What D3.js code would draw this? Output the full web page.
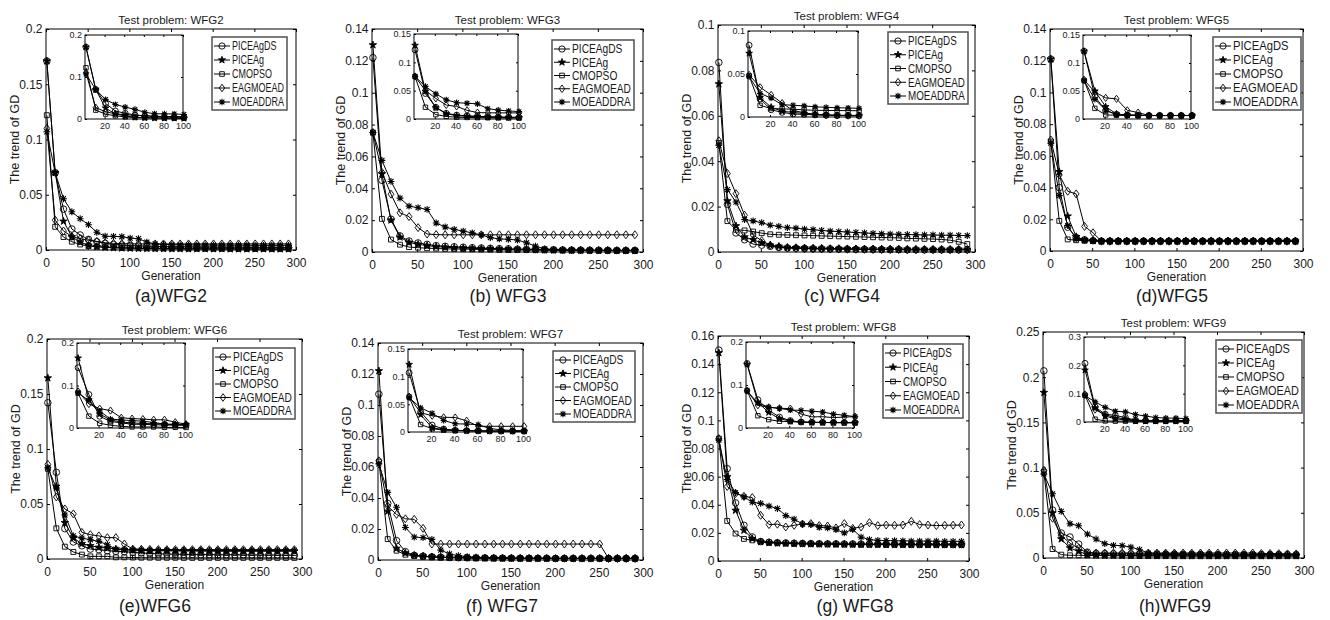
<!DOCTYPE html>
<head>
  <meta charset="utf-8">
  <script src="https://d3js.org/d3.v7.min.js"></script>
  <style>
    body { margin: 0; background: #fff; }
    svg { width: 1330px; height: 620px; display: block; background: #fff; }
    text { font-family: "Liberation Sans", Arial, sans-serif; fill: #1a1a1a; }
  </style>
</head>
<body>
  <svg></svg>
  <script>
    // generations at which GD was recorded
    var generations = [1, 11, 21, 31, 41, 51, 61, 71, 81, 91, 101, 111, 121, 131, 141,
      151, 161, 171, 181, 191, 201, 211, 221, 231, 241, 251, 261, 271, 281, 291];
    var algorithms = ['PICEAgDS', 'PICEAg', 'CMOPSO', 'EAGMOEAD', 'MOEADDRA'];
    var xTicks = [0, 50, 100, 150, 200, 250, 300];
    var insetXTicks = [20, 40, 60, 80, 100];

    // one row per algorithm, same order as `algorithms`
    var wfg2 = [
      [0.171, 0.070, 0.037, 0.019, 0.0136, 0.0096, 0.0075, 0.006, 0.005, 0.0045, 0.004, 0.0037, 0.0035, 0.0033, 0.0031, 0.003, 0.003, 0.0029, 0.0028, 0.0028, 0.0027, 0.0027, 0.0026, 0.0026, 0.0025, 0.0025, 0.0025, 0.0024, 0.0024, 0.0024],
      [0.171, 0.070, 0.026, 0.012, 0.0072, 0.0042, 0.003, 0.0024, 0.002, 0.0017, 0.0015, 0.0014, 0.0013, 0.0012, 0.0012, 0.0011, 0.0011, 0.001, 0.001, 0.001, 0.001, 0.001, 0.0009, 0.0009, 0.0009, 0.0009, 0.0009, 0.0009, 0.0009, 0.0009],
      [0.122, 0.021, 0.0117, 0.0075, 0.005, 0.0036, 0.003, 0.0025, 0.0022, 0.002, 0.0018, 0.0016, 0.0015, 0.0014, 0.0013, 0.0012, 0.0012, 0.0011, 0.0011, 0.001, 0.001, 0.001, 0.001, 0.0009, 0.0009, 0.0009, 0.0009, 0.0008, 0.0008, 0.0008],
      [0.110, 0.027, 0.0172, 0.0123, 0.0102, 0.0087, 0.0078, 0.0066, 0.006, 0.0058, 0.0056, 0.0055, 0.0055, 0.0055, 0.0055, 0.0055, 0.0055, 0.0055, 0.0055, 0.0055, 0.0055, 0.0055, 0.0055, 0.0055, 0.0055, 0.0055, 0.0055, 0.0055, 0.0055, 0.0055],
      [0.107, 0.070, 0.0464, 0.0346, 0.0283, 0.0229, 0.016, 0.0125, 0.0123, 0.012, 0.0108, 0.0102, 0.0072, 0.0055, 0.005, 0.0048, 0.0047, 0.0046, 0.0045, 0.0045, 0.0044, 0.0044, 0.0043, 0.0043, 0.0043, 0.0042, 0.0042, 0.0042, 0.0042, 0.0042]
    ];
    var wfg3 = [
      [0.122, 0.045, 0.0206, 0.0101, 0.0069, 0.0057, 0.0048, 0.004, 0.0036, 0.0033, 0.003, 0.0027, 0.0025, 0.0023, 0.0021, 0.002, 0.0018, 0.0017, 0.0016, 0.0015, 0.0014, 0.0013, 0.0012, 0.0012, 0.0011, 0.0011, 0.001, 0.001, 0.001, 0.001],
      [0.130, 0.049, 0.020, 0.0093, 0.006, 0.0048, 0.004, 0.0034, 0.003, 0.0027, 0.0025, 0.0023, 0.0021, 0.002, 0.0018, 0.0017, 0.0016, 0.0015, 0.0014, 0.0013, 0.0012, 0.0012, 0.0011, 0.0011, 0.001, 0.001, 0.001, 0.0009, 0.0009, 0.0009],
      [0.075, 0.0208, 0.0078, 0.0046, 0.0031, 0.0027, 0.0024, 0.0022, 0.002, 0.0019, 0.0018, 0.0017, 0.0016, 0.0015, 0.0014, 0.0013, 0.0013, 0.0012, 0.0012, 0.0011, 0.0011, 0.001, 0.001, 0.001, 0.0009, 0.0009, 0.0009, 0.0008, 0.0008, 0.0008],
      [0.075, 0.050, 0.0363, 0.0246, 0.0222, 0.0153, 0.0113, 0.0109, 0.0108, 0.0108, 0.0108, 0.0108, 0.0108, 0.0108, 0.0108, 0.0108, 0.0108, 0.0108, 0.0108, 0.0108, 0.0108, 0.0108, 0.0108, 0.0108, 0.0108, 0.0108, 0.0108, 0.0108, 0.0108, 0.0108],
      [0.075, 0.0575, 0.0443, 0.0338, 0.0288, 0.0278, 0.0267, 0.0182, 0.0157, 0.0142, 0.0131, 0.012, 0.0107, 0.009, 0.0082, 0.008, 0.0075, 0.0058, 0.0037, 0.002, 0.0015, 0.0013, 0.0012, 0.0011, 0.0011, 0.001, 0.001, 0.001, 0.001, 0.001]
    ];
    var wfg4 = [
      [0.0835, 0.021, 0.0084, 0.0054, 0.0035, 0.003, 0.0025, 0.002, 0.0018, 0.0017, 0.0016, 0.0015, 0.0014, 0.0014, 0.0013, 0.0013, 0.0012, 0.0012, 0.0012, 0.0011, 0.0011, 0.0011, 0.001, 0.001, 0.001, 0.001, 0.001, 0.001, 0.001, 0.001],
      [0.074, 0.0225, 0.0115, 0.0066, 0.0054, 0.004, 0.003, 0.0025, 0.002, 0.0019, 0.0018, 0.0017, 0.0016, 0.0015, 0.0015, 0.0014, 0.0014, 0.0013, 0.0013, 0.0013, 0.0012, 0.0012, 0.0012, 0.0012, 0.0011, 0.0011, 0.0011, 0.0011, 0.0011, 0.0011],
      [0.048, 0.0136, 0.0098, 0.0095, 0.009, 0.0083, 0.0078, 0.0076, 0.0075, 0.0074, 0.0073, 0.0072, 0.0071, 0.007, 0.0069, 0.0068, 0.0067, 0.0066, 0.0065, 0.0064, 0.0063, 0.0062, 0.006, 0.0059, 0.0058, 0.0057, 0.0055, 0.0052, 0.0045, 0.0035],
      [0.049, 0.0346, 0.0257, 0.0162, 0.0075, 0.005, 0.003, 0.0022, 0.0018, 0.0016, 0.0015, 0.0014, 0.0014, 0.0013, 0.0013, 0.0012, 0.0012, 0.0012, 0.0011, 0.0011, 0.0011, 0.0011, 0.001, 0.001, 0.001, 0.001, 0.001, 0.001, 0.001, 0.001],
      [0.047, 0.0275, 0.022, 0.0143, 0.0137, 0.0129, 0.0118, 0.0113, 0.0107, 0.0105, 0.0101, 0.0098, 0.0095, 0.0092, 0.009, 0.0088, 0.0086, 0.0084, 0.0082, 0.008, 0.0079, 0.0078, 0.0077, 0.0076, 0.0075, 0.0075, 0.0074, 0.0074, 0.0073, 0.0072]
    ];
    var wfg5 = [
      [0.121, 0.040, 0.015, 0.0085, 0.007, 0.0065, 0.0062, 0.0062, 0.0062, 0.0062, 0.0062, 0.0062, 0.0062, 0.0062, 0.0062, 0.0062, 0.0062, 0.0062, 0.0062, 0.0062, 0.0062, 0.0062, 0.0062, 0.0062, 0.0062, 0.0062, 0.0062, 0.0062, 0.0062, 0.0062],
      [0.121, 0.050, 0.022, 0.009, 0.007, 0.0065, 0.0062, 0.0062, 0.0062, 0.0062, 0.0062, 0.0062, 0.0062, 0.0062, 0.0062, 0.0062, 0.0062, 0.0062, 0.0062, 0.0062, 0.0062, 0.0062, 0.0062, 0.0062, 0.0062, 0.0062, 0.0062, 0.0062, 0.0062, 0.0062],
      [0.069, 0.019, 0.0073, 0.0068, 0.0065, 0.0063, 0.0062, 0.0062, 0.0062, 0.0062, 0.0062, 0.0062, 0.0062, 0.0062, 0.0062, 0.0062, 0.0062, 0.0062, 0.0062, 0.0062, 0.0062, 0.0062, 0.0062, 0.0062, 0.0062, 0.0062, 0.0062, 0.0062, 0.0062, 0.0062],
      [0.070, 0.048, 0.0377, 0.036, 0.0155, 0.0115, 0.0062, 0.0062, 0.0062, 0.0062, 0.0062, 0.0062, 0.0062, 0.0062, 0.0062, 0.0062, 0.0062, 0.0062, 0.0062, 0.0062, 0.0062, 0.0062, 0.0062, 0.0062, 0.0062, 0.0062, 0.0062, 0.0062, 0.0062, 0.0062],
      [0.068, 0.035, 0.016, 0.0075, 0.007, 0.0065, 0.0062, 0.0062, 0.0062, 0.0062, 0.0062, 0.0062, 0.0062, 0.0062, 0.0062, 0.0062, 0.0062, 0.0062, 0.0062, 0.0062, 0.0062, 0.0062, 0.0062, 0.0062, 0.0062, 0.0062, 0.0062, 0.0062, 0.0062, 0.0062]
    ];
    var wfg6 = [
      [0.142, 0.0788, 0.0276, 0.0155, 0.012, 0.009, 0.0085, 0.0076, 0.007, 0.0067, 0.006, 0.0055, 0.005, 0.0047, 0.0045, 0.0043, 0.0042, 0.0041, 0.004, 0.004, 0.0039, 0.0039, 0.0038, 0.0038, 0.0037, 0.0037, 0.0036, 0.0036, 0.0035, 0.0035],
      [0.1645, 0.066, 0.033, 0.019, 0.014, 0.012, 0.0106, 0.01, 0.009, 0.0085, 0.008, 0.0078, 0.0076, 0.0075, 0.0074, 0.0073, 0.0072, 0.0072, 0.0071, 0.0071, 0.007, 0.007, 0.007, 0.007, 0.007, 0.007, 0.007, 0.007, 0.007, 0.007],
      [0.082, 0.0279, 0.0112, 0.0064, 0.004, 0.0024, 0.0024, 0.0024, 0.0015, 0.0015, 0.0013, 0.0012, 0.0012, 0.0011, 0.0011, 0.0011, 0.001, 0.001, 0.001, 0.001, 0.001, 0.001, 0.001, 0.001, 0.001, 0.001, 0.001, 0.001, 0.001, 0.001],
      [0.086, 0.0564, 0.0455, 0.041, 0.0242, 0.0221, 0.021, 0.0194, 0.0194, 0.0136, 0.009, 0.0088, 0.0087, 0.0086, 0.0085, 0.0085, 0.0085, 0.0085, 0.0085, 0.0085, 0.0085, 0.0085, 0.0085, 0.0085, 0.0085, 0.0085, 0.0085, 0.0085, 0.0085, 0.0085],
      [0.083, 0.0645, 0.040, 0.021, 0.019, 0.0175, 0.016, 0.013, 0.009, 0.0085, 0.0082, 0.008, 0.0079, 0.0078, 0.0078, 0.0078, 0.0078, 0.0078, 0.0078, 0.0078, 0.0078, 0.0078, 0.0078, 0.0078, 0.0078, 0.0078, 0.0078, 0.0078, 0.0078, 0.0078]
    ];
    var wfg7 = [
      [0.107, 0.0365, 0.0125, 0.0054, 0.003, 0.0025, 0.002, 0.0018, 0.0016, 0.0015, 0.0014, 0.0013, 0.0013, 0.0012, 0.0012, 0.0012, 0.0011, 0.0011, 0.0011, 0.0011, 0.001, 0.001, 0.001, 0.001, 0.001, 0.001, 0.001, 0.001, 0.001, 0.001],
      [0.122, 0.0314, 0.0075, 0.0045, 0.003, 0.0025, 0.002, 0.0018, 0.0016, 0.0015, 0.0014, 0.0013, 0.0012, 0.0012, 0.0011, 0.0011, 0.0011, 0.001, 0.001, 0.001, 0.001, 0.001, 0.001, 0.001, 0.001, 0.001, 0.001, 0.001, 0.001, 0.001],
      [0.0635, 0.0135, 0.006, 0.0034, 0.0028, 0.0022, 0.002, 0.0017, 0.0015, 0.0014, 0.0013, 0.0012, 0.0012, 0.0011, 0.0011, 0.001, 0.001, 0.001, 0.001, 0.001, 0.001, 0.001, 0.001, 0.001, 0.001, 0.001, 0.001, 0.001, 0.001, 0.001],
      [0.064, 0.0348, 0.0294, 0.0266, 0.0262, 0.0204, 0.0103, 0.0103, 0.0103, 0.0103, 0.0103, 0.0103, 0.0103, 0.0103, 0.0103, 0.0103, 0.0103, 0.0103, 0.0103, 0.0103, 0.0103, 0.0103, 0.0103, 0.0103, 0.0103, 0.0103, 0.001, 0.001, 0.001, 0.001],
      [0.062, 0.0436, 0.034, 0.021, 0.0148, 0.0144, 0.0133, 0.0064, 0.0039, 0.0028, 0.0022, 0.0018, 0.0016, 0.0015, 0.0014, 0.0013, 0.0012, 0.0012, 0.0011, 0.0011, 0.001, 0.001, 0.001, 0.001, 0.001, 0.001, 0.001, 0.001, 0.001, 0.001]
    ];
    var wfg8 = [
      [0.150, 0.0657, 0.0413, 0.0254, 0.0171, 0.0138, 0.0133, 0.013, 0.0128, 0.0126, 0.0125, 0.0124, 0.0123, 0.0122, 0.0122, 0.0121, 0.0121, 0.012, 0.012, 0.012, 0.0119, 0.0119, 0.0119, 0.0118, 0.0118, 0.0118, 0.0118, 0.0117, 0.0117, 0.0117],
      [0.148, 0.0598, 0.036, 0.0218, 0.0159, 0.0136, 0.013, 0.0127, 0.0125, 0.0123, 0.0122, 0.0121, 0.012, 0.012, 0.0119, 0.0119, 0.0118, 0.0118, 0.0117, 0.0117, 0.0117, 0.0116, 0.0116, 0.0116, 0.0116, 0.0115, 0.0115, 0.0115, 0.0115, 0.0115],
      [0.087, 0.0285, 0.0195, 0.0157, 0.0147, 0.0138, 0.0132, 0.0128, 0.0126, 0.0124, 0.0122, 0.0121, 0.012, 0.0119, 0.0119, 0.0118, 0.0118, 0.0117, 0.0117, 0.0117, 0.0116, 0.0116, 0.0116, 0.0116, 0.0115, 0.0115, 0.0115, 0.0115, 0.0115, 0.0115],
      [0.087, 0.053, 0.048, 0.046, 0.0451, 0.0325, 0.0259, 0.0262, 0.0242, 0.0254, 0.0263, 0.0266, 0.0252, 0.0249, 0.0235, 0.0266, 0.0232, 0.0242, 0.0273, 0.0252, 0.0256, 0.0254, 0.0256, 0.0282, 0.0259, 0.0256, 0.0252, 0.0254, 0.0255, 0.0256],
      [0.086, 0.058, 0.0487, 0.0456, 0.0418, 0.041, 0.039, 0.0373, 0.0323, 0.0297, 0.0263, 0.0259, 0.024, 0.0235, 0.0223, 0.020, 0.0225, 0.017, 0.0152, 0.0147, 0.0145, 0.0144, 0.0143, 0.0142, 0.0142, 0.0141, 0.0141, 0.014, 0.014, 0.014]
    ];
    var wfg9 = [
      [0.207, 0.053, 0.0276, 0.0232, 0.0154, 0.0065, 0.005, 0.0048, 0.0046, 0.0045, 0.0044, 0.0043, 0.0042, 0.0041, 0.004, 0.004, 0.0039, 0.0039, 0.0038, 0.0038, 0.0037, 0.0037, 0.0037, 0.0036, 0.0036, 0.0036, 0.0035, 0.0035, 0.0035, 0.0035],
      [0.183, 0.0497, 0.021, 0.011, 0.0074, 0.0037, 0.0033, 0.003, 0.0029, 0.0028, 0.0028, 0.0027, 0.0027, 0.0026, 0.0026, 0.0026, 0.0025, 0.0025, 0.0025, 0.0025, 0.0025, 0.0025, 0.0025, 0.0025, 0.0025, 0.0025, 0.0025, 0.0025, 0.0025, 0.0025],
      [0.095, 0.0099, 0.0037, 0.003, 0.003, 0.0028, 0.0027, 0.0026, 0.0025, 0.0024, 0.0023, 0.0022, 0.0022, 0.0021, 0.0021, 0.002, 0.002, 0.002, 0.002, 0.002, 0.002, 0.002, 0.002, 0.002, 0.002, 0.002, 0.002, 0.002, 0.002, 0.002],
      [0.097, 0.044, 0.0246, 0.0165, 0.0107, 0.0055, 0.0055, 0.0055, 0.0055, 0.0055, 0.0055, 0.0055, 0.0055, 0.0055, 0.0055, 0.0055, 0.0055, 0.0055, 0.0055, 0.0055, 0.0055, 0.0055, 0.0055, 0.0055, 0.0055, 0.005, 0.005, 0.0048, 0.0046, 0.0045],
      [0.093, 0.071, 0.0515, 0.0379, 0.0357, 0.0265, 0.021, 0.0158, 0.014, 0.0136, 0.0121, 0.0092, 0.0055, 0.005, 0.0048, 0.0046, 0.0045, 0.0044, 0.0043, 0.0042, 0.0041, 0.004, 0.004, 0.004, 0.004, 0.004, 0.004, 0.004, 0.004, 0.004]
    ];

    // y tick labels of each main plot and of each inset
    var yTicks2 = [0, 0.05, 0.1, 0.15, 0.2], inTicks2 = [0, 0.1, 0.2];
    var yTicks3 = [0, 0.02, 0.04, 0.06, 0.08, 0.1, 0.12, 0.14], inTicks3 = [0, 0.05, 0.1, 0.15];
    var yTicks4 = [0, 0.02, 0.04, 0.06, 0.08, 0.1], inTicks4 = [0, 0.05, 0.1];
    var yTicks5 = [0, 0.02, 0.04, 0.06, 0.08, 0.1, 0.12, 0.14], inTicks5 = [0, 0.05, 0.1, 0.15];
    var yTicks6 = [0, 0.05, 0.1, 0.15, 0.2], inTicks6 = [0, 0.1, 0.2];
    var yTicks7 = [0, 0.02, 0.04, 0.06, 0.08, 0.1, 0.12, 0.14], inTicks7 = [0, 0.05, 0.1, 0.15];
    var yTicks8 = [0, 0.02, 0.04, 0.06, 0.08, 0.1, 0.12, 0.14, 0.16], inTicks8 = [0, 0.1, 0.2];
    var yTicks9 = [0, 0.05, 0.1, 0.15, 0.2, 0.25], inTicks9 = [0, 0.1, 0.2, 0.3];

    // layout: box = [x0, y0, x1, y1] of the axes, inset and legend
    var panels = [
      {name: 'WFG2', caption: '(a)WFG2', data: wfg2, yTicks: yTicks2, inTicks: inTicks2,
        box: [46, 29, 296, 250], inset: [85, 35, 183, 119], legend: [212, 37, 287, 110], cap: [171, 302]},
      {name: 'WFG3', caption: '(b) WFG3', data: wfg3, yTicks: yTicks3, inTicks: inTicks3,
        box: [372, 29, 643, 252], inset: [414, 34, 518, 119], legend: [552, 40, 634, 110], cap: [508, 302]},
      {name: 'WFG4', caption: '(c) WFG4', data: wfg4, yTicks: yTicks4, inTicks: inTicks4,
        box: [718, 25, 975, 252], inset: [748, 31, 858, 117], legend: [888, 32, 968, 104], cap: [842, 302]},
      {name: 'WFG5', caption: '(d)WFG5', data: wfg5, yTicks: yTicks5, inTicks: inTicks5,
        box: [1050, 29, 1303, 251], inset: [1083, 35, 1191, 119], legend: [1213, 37, 1301, 110], cap: [1172, 302]},
      {name: 'WFG6', caption: '(e)WFG6', data: wfg6, yTicks: yTicks6, inTicks: inTicks6,
        box: [47, 339, 302, 559], inset: [77, 343, 185, 428], legend: [213, 348, 295, 419], cap: [155, 612]},
      {name: 'WFG7', caption: '(f) WFG7', data: wfg7, yTicks: yTicks7, inTicks: inTicks7,
        box: [378, 343, 643, 560], inset: [408, 349, 523, 432], legend: [553, 351, 635, 422], cap: [502, 612]},
      {name: 'WFG8', caption: '(g) WFG8', data: wfg8, yTicks: yTicks8, inTicks: inTicks8,
        box: [718, 336, 969, 561], inset: [746, 342, 854, 428], legend: [883, 344, 963, 418], cap: [855, 612]},
      {name: 'WFG9', caption: '(h)WFG9', data: wfg9, yTicks: yTicks9, inTicks: inTicks9,
        box: [1043, 332, 1304, 558], inset: [1084, 337, 1185, 422], legend: [1216, 340, 1302, 413], cap: [1175, 612]}
    ];

    var markerPaths = [
      d3.symbol(d3.symbolCircle, 34)(),
      d3.symbol(d3.symbolStar, 17)(),
      d3.symbol(d3.symbolSquare, 24)(),
      'M0,-4L2.9,0L0,4L-2.9,0Z',
      'M-3.4,0H3.4M0,-3.4V3.4M-2.5,-2.5L2.5,2.5M-2.5,2.5L2.5,-2.5'
    ];
    var fmt = d3.format('~g');
    var svg = d3.select('svg');

    function marker(g, si, x, y, k) {
      g.append('path')
        .attr('d', markerPaths[si])
        .attr('transform', 'translate(' + [x, y] + ')scale(' + (k || 1) + ')')
        .attr('fill', si === 1 ? '#000' : 'none')
        .attr('stroke', '#000')
        .attr('stroke-width', (si === 4 ? 1.1 : 0.9) / (k || 1));
    }

    function styleAxis(a, size) {
      a.select('.domain').remove();
      a.selectAll('line').attr('stroke', '#000');
      a.selectAll('text').style('font-size', size + 'px')
        .style('font-family', '"Liberation Sans", Arial, sans-serif').attr('fill', '#1a1a1a');
    }

    // box with ticks pointing inwards on all four sides
    function frame(g, x, y, xt, yt, tick, size, pad) {
      var r = x.range(), d = y.range();
      g.append('rect').attr('x', r[0]).attr('y', d[1])
        .attr('width', r[1] - r[0]).attr('height', d[0] - d[1]).attr('fill', '#fff');
      styleAxis(g.append('g').attr('transform', 'translate(0,' + d[0] + ')')
        .call(d3.axisBottom(x).tickValues(xt).tickSize(-tick).tickPadding(pad[0]).tickFormat(fmt)), size);
      styleAxis(g.append('g').attr('transform', 'translate(' + r[0] + ',0)')
        .call(d3.axisLeft(y).tickValues(yt).tickSize(-tick).tickPadding(pad[1]).tickFormat(fmt)), size);
      styleAxis(g.append('g').attr('transform', 'translate(0,' + d[1] + ')')
        .call(d3.axisTop(x).tickValues(xt).tickSize(-tick).tickFormat('')), size);
      styleAxis(g.append('g').attr('transform', 'translate(' + r[1] + ',0)')
        .call(d3.axisRight(y).tickValues(yt).tickSize(-tick).tickFormat('')), size);
      g.append('rect').attr('x', r[0]).attr('y', d[1])
        .attr('width', r[1] - r[0]).attr('height', d[0] - d[1])
        .attr('fill', 'none').attr('stroke', '#000').attr('stroke-width', 1);
    }

    function series(g, x, y, rows, upto, k) {
      var line = d3.line().x(function(d) { return x(d[0]); }).y(function(d) { return y(d[1]); });
      rows.forEach(function(vals, si) {
        var pts = generations.map(function(gen, i) { return [gen, vals[i]]; });
        if (upto) pts = pts.filter(function(d) { return d[0] <= upto; });
        g.append('path').datum(pts).attr('d', line)
          .attr('fill', 'none').attr('stroke', '#000').attr('stroke-width', 1)
          .attr('clip-path', g.attr('data-clip'));
        pts.forEach(function(d) {
          if (d[0] <= (upto ? upto - 10 : 300)) marker(g, si, x(d[0]), y(d[1]), k);
        });
      });
    }

    panels.forEach(function(p, pi) {
      var g = svg.append('g');
      var b = p.box;
      var x = d3.scaleLinear().domain([0, 300]).range([b[0], b[2]]);
      var y = d3.scaleLinear().domain([0, d3.max(p.yTicks)]).range([b[3], b[1]]);

      frame(g, x, y, xTicks, p.yTicks, 3, 12, [8, 3.5]);
      series(g.append('g'), x, y, p.data, 0, 1);

      // labels
      g.append('text').attr('x', (b[0] + b[2]) / 2).attr('y', b[1] - 5)
        .attr('text-anchor', 'middle').style('font-size', '11.5px').text('Test problem: ' + p.name);
      g.append('text').attr('x', (b[0] + b[2]) / 2).attr('y', b[3] + 30)
        .attr('text-anchor', 'middle').style('font-size', '12px').text('Generation');
      g.append('text')
        .attr('transform', 'translate(' + [b[0] - 31, (b[1] + b[3]) / 2] + ')rotate(-90)')
        .attr('text-anchor', 'middle').attr('dy', '0.35em')
        .style('font-size', '12.5px').text('The trend of GD');
      g.append('text').attr('x', p.cap[0]).attr('y', p.cap[1])
        .attr('text-anchor', 'middle').style('font-size', '17.5px').attr('fill', '#000').text(p.caption);

      // inset zoom on the first 100 generations
      var ib = p.inset;
      var ix = d3.scaleLinear().domain([0, 100]).range([ib[0], ib[2]]);
      var iy = d3.scaleLinear().domain([0, d3.max(p.inTicks)]).range([ib[3], ib[1]]);
      var ig = g.append('g');
      ig.append('clipPath').attr('id', 'clip' + pi).append('rect')
        .attr('x', ib[0]).attr('y', ib[1]).attr('width', ib[2] - ib[0]).attr('height', ib[3] - ib[1]);
      frame(ig, ix, iy, insetXTicks, p.inTicks, 2, 9, [4, 3]);
      var sg = ig.append('g').attr('data-clip', 'url(#clip' + pi + ')');
      series(sg, ix, iy, p.data, 111, 0.9);

      // legend
      var L = p.legend;
      var lg = g.append('g');
      lg.append('rect').attr('x', L[0]).attr('y', L[1]).attr('width', L[2] - L[0]).attr('height', L[3] - L[1])
        .attr('fill', '#fff').attr('stroke', '#505050').attr('stroke-width', 1.5);
      var step = (L[3] - L[1] - 17) / 4;
      var texts = algorithms.map(function(name, si) {
        var cy = L[1] + 9 + si * step;
        lg.append('line').attr('x1', L[0] + 2).attr('x2', L[0] + 18).attr('y1', cy).attr('y2', cy)
          .attr('stroke', '#000').attr('stroke-width', 1);
        marker(lg, si, L[0] + 10, cy, 0.95);
        return lg.append('text').attr('y', cy).attr('dy', '0.36em')
          .style('font-size', '12px').text(name);
      });
      var maxW = d3.max(texts, function(t) { return t.node().getComputedTextLength(); });
      var sx = Math.min(1.05, (L[2] - L[0] - 23) / maxW);
      texts.forEach(function(t) {
        t.attr('transform', 'translate(' + (L[0] + 20) + ',0)scale(' + sx + ',1)');
      });
    });
  </script>
</body>
